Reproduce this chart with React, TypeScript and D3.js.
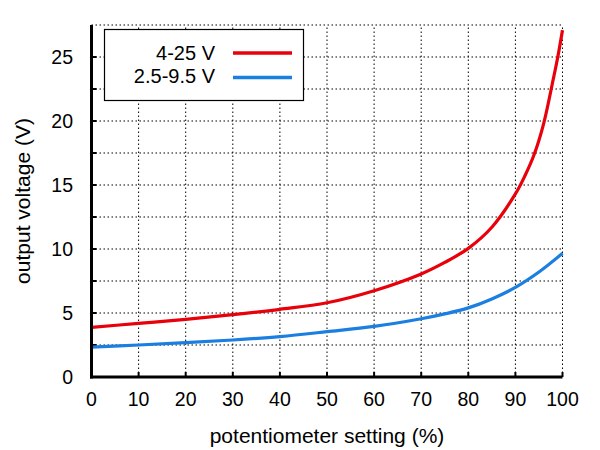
import React from "react";
import * as d3 from "d3";

// potentiometer setting (%)
const redX = [0, 10, 20, 30, 40, 50, 60, 70, 75, 80, 85, 90, 92, 94, 96, 98, 99, 100];
const redY = [3.88, 4.19, 4.5, 4.87, 5.29, 5.8, 6.74, 8.05, 8.95, 10.05, 11.7, 14.3, 15.7, 17.4, 19.8, 23.2, 25, 27.1];

const blueX = [0, 10, 20, 30, 40, 50, 60, 70, 75, 80, 85, 90, 95, 100];
const blueY = [2.34, 2.5, 2.68, 2.89, 3.16, 3.54, 3.95, 4.55, 4.93, 5.4, 6.1, 7.0, 8.2, 9.66];

const xTicks = [0, 10, 20, 30, 40, 50, 60, 70, 80, 90, 100];
const yTicks = [0, 5, 10, 15, 20, 25];
const yGrid = [2.5, 5, 7.5, 10, 12.5, 15, 17.5, 20, 22.5, 25, 27.5];

const seriesNames = ["4-25 V", "2.5-9.5 V"];
const seriesColors = ["#e8000b", "#1a7fe0"];

const width = 600;
const height = 450;
const margin = { top: 25, right: 37.5, bottom: 73, left: 91.5 };
const font = "'Liberation Sans', Arial, sans-serif";

const App: React.FC = () => {
  const x = d3.scaleLinear().domain([0, 100]).range([margin.left, width - margin.right]);
  const y = d3.scaleLinear().domain([0, 27.5]).range([height - margin.bottom, margin.top]);

  const line = d3
    .line<[number, number]>()
    .x((d) => x(d[0]))
    .y((d) => y(d[1]))
    .curve(d3.curveCatmullRom.alpha(0.5));

  const red = redX.map((v, i) => [v, redY[i]] as [number, number]);
  const blue = blueX.map((v, i) => [v, blueY[i]] as [number, number]);

  const x0 = x(0), x1 = x(100), y0 = y(0), y1 = y(27.5);

  return (
    <svg width={width} height={height} style={{ position: "absolute", left: 0, top: 0, background: "white" }}>
      {/* grid */}
      {yGrid.map((t) => (
        <line key={"gy" + t} x1={x0} x2={x1} y1={y(t)} y2={y(t)} stroke="#000" strokeWidth={1} strokeDasharray="1.5,2.5" />
      ))}
      {xTicks.slice(1).map((t) => (
        <line key={"gx" + t} x1={x(t)} x2={x(t)} y1={y0} y2={y1} stroke="#000" strokeWidth={1} strokeDasharray="1.5,2.5" />
      ))}

      {/* ticks */}
      {yGrid.slice(0, -1).map((t) => (
        <line key={"ty" + t} x1={x0} x2={x0 + 5} y1={y(t)} y2={y(t)} stroke="#000" strokeWidth={2} />
      ))}
      {xTicks.map((t) => (
        <line key={"tx" + t} x1={x(t)} x2={x(t)} y1={y0} y2={y0 - 5} stroke="#000" strokeWidth={2} />
      ))}

      {/* curves */}
      <path d={line(red) ?? ""} fill="none" stroke={seriesColors[0]} strokeWidth={3.2} />
      <path d={line(blue) ?? ""} fill="none" stroke={seriesColors[1]} strokeWidth={3.2} />

      {/* axes */}
      <line x1={x0} x2={x0} y1={y1} y2={y0 + 1.5} stroke="#000" strokeWidth={3} />
      <line x1={x0 - 1.5} x2={x1} y1={y0} y2={y0} stroke="#000" strokeWidth={3} />

      {/* tick labels */}
      {yTicks.map((t) => (
        <text key={"ly" + t} x={73} y={y(t) + 7} textAnchor="end" fontFamily={font} fontSize={19.5} fill="#000">
          {t}
        </text>
      ))}
      {xTicks.map((t) => (
        <text key={"lx" + t} x={x(t)} y={406} textAnchor="middle" fontFamily={font} fontSize={19.5} fill="#000">
          {t}
        </text>
      ))}

      {/* titles */}
      <text x={(x0 + x1) / 2} y={443} textAnchor="middle" fontFamily={font} fontSize={21} fill="#000">
        potentiometer setting (%)
      </text>
      <text transform={`translate(30,${(y0 + y1) / 2}) rotate(-90)`} textAnchor="middle" fontFamily={font} fontSize={21} fill="#000">
        output voltage (V)
      </text>

      {/* legend */}
      <rect x={104.5} y={29.5} width={199} height={71} fill="#fff" stroke="#000" strokeWidth={1.2} />
      {seriesNames.map((name, i) => (
        <g key={name}>
          <text x={215} y={59.5 + i * 23.5} textAnchor="end" fontFamily={font} fontSize={20} fill="#000">
            {name}
          </text>
          <line x1={233} x2={292} y1={53 + i * 24.5} y2={53 + i * 24.5} stroke={seriesColors[i]} strokeWidth={3.4} />
        </g>
      ))}
    </svg>
  );
};

export default App;
